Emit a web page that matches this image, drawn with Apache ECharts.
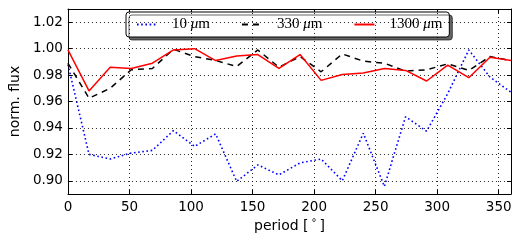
<!DOCTYPE html>
<html><head><meta charset="utf-8">
<script src="https://cdn.jsdelivr.net/npm/echarts@6/dist/echarts.min.js"></script>
<style>html,body{margin:0;padding:0;background:#fff}#c{width:521px;height:243px}</style>
</head><body><div id="c"></div>
<script>
const periods = [0, 17.1, 34.3, 51.4, 68.6, 85.7, 102.9, 120, 137.1, 154.3, 171.4, 188.6, 205.7, 222.9, 240, 257.1, 274.3, 291.4, 308.6, 325.7, 342.9, 360];
const flux10 = [0.988, 0.920, 0.9165, 0.921, 0.923, 0.938, 0.926, 0.9355, 0.8995, 0.912, 0.9045, 0.9135, 0.9165, 0.900, 0.936, 0.8957, 0.9485, 0.9375, 0.966, 0.999, 0.9785, 0.967];
const flux330 = [0.989, 0.9625, 0.970, 0.984, 0.985, 0.9995, 0.994, 0.991, 0.9865, 0.999, 0.986, 0.994, 0.9825, 0.996, 0.9905, 0.989, 0.983, 0.984, 0.9885, 0.9835, 0.994, 0.991];
const flux1300 = [0.999, 0.968, 0.986, 0.985, 0.989, 0.999, 1.000, 0.991, 0.9945, 0.9955, 0.985, 0.9955, 0.976, 0.9805, 0.9815, 0.985, 0.9835, 0.9755, 0.9875, 0.978, 0.9935, 0.991];
const seriesNames = ['10 μm', '330 μm', '1300 μm'];
const yTicks = [0.90, 0.92, 0.94, 0.96, 0.98, 1.00, 1.02];
const xTicks = [0, 50, 100, 150, 200, 250, 300, 350];

const font = 'DejaVu Sans';
const zip = a => periods.map((p, i) => [p, a[i]]);
const tickCfg = {show: true, inside: true, length: 4, lineStyle: {color: '#000', width: 1}};
const gridStyle = {color: '#000', width: 1, type: [1, 3], opacity: 0.85};

const chart = echarts.init(document.getElementById('c'), null, {renderer: 'canvas'});
chart.setOption({
  animation: false,
  backgroundColor: '#fff',
  grid: {left: 63, right: 10, top: 9, bottom: 49, show: false},
  legend: {
    data: seriesNames,
    left: 126, top: 12,
    padding: [5, 7, 5, 10],
    itemWidth: 20, itemHeight: 10, itemGap: 31,
    itemStyle: {opacity: 0, borderWidth: 0},
    backgroundColor: '#fff',
    borderColor: '#000', borderWidth: 1, borderRadius: 3,
    shadowColor: 'rgba(0,0,0,0.6)', shadowBlur: 0, shadowOffsetX: 3, shadowOffsetY: 3,
    formatter: name => {
      const n = name.split(' ')[0];
      return '{a|' + n + ' }{i|μ}{a|m}';
    },
    textStyle: {
      rich: {
        a: {fontFamily: 'Liberation Serif', fontSize: 15, color: '#000'},
        i: {fontFamily: 'Liberation Serif', fontStyle: 'italic', fontSize: 15, color: '#000'}
      },
      padding: [0, 0, 0, 10]
    }
  },
  xAxis: [{
    type: 'value', min: 0, max: 360, interval: 50, position: 'bottom',
    name: 'period [{d|°}]', nameLocation: 'middle', nameGap: 21,
    nameTextStyle: {fontFamily: font, fontSize: 14, color: '#000',
      rich: {d: {fontFamily: font, fontSize: 10, color: '#000', verticalAlign: 'top', padding: [0, 3, 4, 3]}}},
    axisLine: {show: true, onZero: false, lineStyle: {color: '#000', width: 1}},
    axisTick: Object.assign({customValues: xTicks}, tickCfg),
    axisLabel: {customValues: xTicks, color: '#000', fontFamily: font, fontSize: 13.5, margin: 6},
    splitLine: {show: false}
  }, {
    type: 'value', min: 0, max: 360, interval: 50, position: 'top',
    axisLine: {show: true, onZero: false, lineStyle: {color: '#000', width: 1}},
    axisTick: Object.assign({customValues: xTicks}, tickCfg),
    axisLabel: {show: false}, splitLine: {show: false}
  }],
  yAxis: [{
    type: 'value', min: 0.89, max: 1.03, interval: 0.01, position: 'left',
    name: 'norm. flux', nameLocation: 'middle', nameGap: 44,
    nameTextStyle: {fontFamily: font, fontSize: 14, color: '#000'},
    axisLine: {show: true, onZero: false, lineStyle: {color: '#000', width: 1}},
    axisTick: Object.assign({customValues: yTicks}, tickCfg),
    axisLabel: {customValues: yTicks, color: '#000', fontFamily: font, fontSize: 13.5, margin: 5,
      formatter: v => v.toFixed(2)},
    splitLine: {show: false}
  }, {
    type: 'value', min: 0.89, max: 1.03, interval: 0.01, position: 'right',
    axisLine: {show: true, onZero: false, lineStyle: {color: '#000', width: 1}},
    axisTick: Object.assign({customValues: yTicks}, tickCfg),
    axisLabel: {show: false}, splitLine: {show: false}
  }],
  series: [{
    name: 'gridlines', type: 'line', data: [], z: 1, silent: true,
    markLine: {
      silent: true, symbol: ['none', 'none'], label: {show: false}, animation: false,
      lineStyle: gridStyle,
      emphasis: {disabled: true},
      data: yTicks.map(v => ({yAxis: v})).concat(xTicks.map(v => ({xAxis: v})))
    }
  }, {
    name: seriesNames[0], type: 'line', data: zip(flux10), symbol: 'none', z: 3,
    color: '#0000ff',
    lineStyle: {color: '#0000ff', width: 1.6, type: [1.6, 2.6]}
  }, {
    name: seriesNames[1], type: 'line', data: zip(flux330), symbol: 'none', z: 4,
    color: '#000',
    lineStyle: {color: '#000', width: 1.5, type: [6, 5]}
  }, {
    name: seriesNames[2], type: 'line', data: zip(flux1300), symbol: 'none', z: 5,
    color: '#ff0000',
    lineStyle: {color: '#ff0000', width: 1.5}
  }]
});
</script></body></html>
